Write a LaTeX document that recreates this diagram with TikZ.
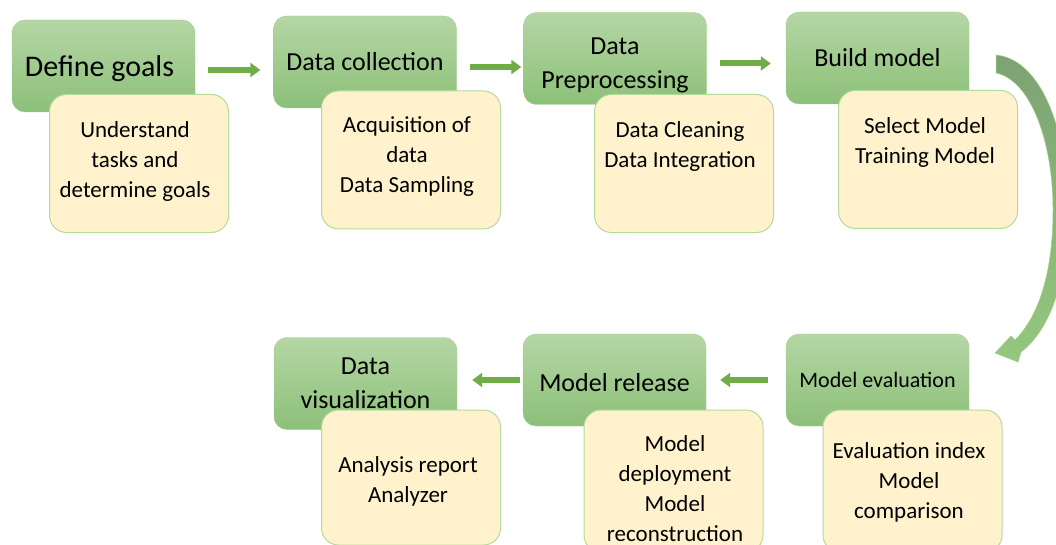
\documentclass[tikz,border=0pt]{standalone}
\usepackage{fontspec}
\setmainfont{Carlito}
\usetikzlibrary{arrows.meta}

\definecolor{stagetop}{HTML}{B5D6A5}
\definecolor{stagebot}{HTML}{8CC079}
\definecolor{stageline}{HTML}{A3CD8A}
\definecolor{notefill}{HTML}{FFF2CC}
\definecolor{noteline}{HTML}{B6D99C}
\definecolor{flowgreen}{HTML}{70AD47}
\definecolor{bendtop}{HTML}{7DA274}
\definecolor{bendbot}{HTML}{94C87D}

\tikzset{
	stage/.style={rectangle, rounded corners=13pt, draw=stageline, top color=stagetop, bottom color=stagebot, minimum width=183pt, minimum height=92pt, inner sep=0pt, align=center, font=\fontsize{26}{34}\selectfont},
	note/.style={rectangle, rounded corners=17pt, draw=noteline, line width=1pt, fill=notefill, minimum width=179pt, minimum height=138pt},
	notetext/.style={align=center, inner sep=0pt, font=\fontsize{23}{30}\selectfont},
	flow/.style={draw=flowgreen, line width=6pt, -{Triangle[length=10pt,width=14pt]}},
}

\begin{document}
\begin{tikzpicture}[x=1pt, y=-1pt]
	
	\useasboundingbox (0,0) rectangle (1056,545);
	\clip (0,0) rectangle (1056,545);
	
	\node[stage, font=\fontsize{30}{34}\selectfont](goals) at (103.5,66){\raisebox{-3pt}[\height][\depth]{Define goals}\hspace*{8pt}};
	\node[stage](collect) at (365,62){Data collection};
	\node[stage](prep) at (615,58.5){\raisebox{-6pt}[\height][\depth]{\begin{tabular}{@{}c@{}}Data\\Preprocessing\end{tabular}}};
	\node[stage](build) at (877.5,58){Build model};
	\node[stage, font=\fontsize{22}{30}\selectfont](eval) at (877.5,380){Model evaluation};
	\node[stage](release) at (614.5,380){\raisebox{-3pt}[\height][\depth]{Model release}};
	\node[stage](vis) at (365.5,383.5){Data\\visualization};
	
	\node[note](goals_n) at (139,163.5){};
	\node[note](collect_n) at (411,160){};
	\node[note](prep_n) at (684,163.5){};
	\node[note](build_n) at (928,159.5){};
	\node[note, minimum height=142pt](eval_n) at (912.5,481){};
	\node[note, minimum height=142pt](release_n) at (673.5,481){};
	\node[note, minimum height=135pt](vis_n) at (411,477.5){};
	
	\node[notetext](goals_t) at (135,161){Understand\\tasks and\\determine goals};
	\node[notetext](collect_t) at (407,157){Acquisition of\\data\\Data Sampling};
	\node[notetext](prep_t) at (680,146){Data Cleaning\\Data Integration};
	\node[notetext](build_t) at (925,142){Select Model\\Training Model};
	\node[notetext](eval_t) at (909,482){Evaluation index\\Model\\comparison};
	\node[notetext](release_t) at (675,489){Model\\deployment\\Model\\reconstruction};
	\node[notetext](vis_t) at (408,481){Analysis report\\Analyzer};
	
	\draw[flow, shorten <=13pt, shorten >=13pt] ([yshift=-4pt]goals.east) -- ([yshift=-4pt]goals.east -| collect.west);
	\draw[flow, shorten <=13pt, shorten >=2pt] ([yshift=-5pt]collect.east) -- ([yshift=-5pt]collect.east -| prep.west);
	\draw[flow, shorten <=13pt, shorten >=15pt] ([yshift=-5pt]prep.east) -- ([yshift=-5pt]prep.east -| build.west);
	\draw[flow, shorten <=18pt, shorten >=14pt] (eval.west) -- (eval.west -| release.east);
	\draw[flow, shorten <=3pt, shorten >=15pt] (release.west) -- (release.west -| vis.east);
	
	% bent arrow from build model down to model evaluation
	\path[top color=bendtop, bottom color=bendbot, draw=stageline, line width=0.5pt]
		(996,55) .. controls (1045,60) and (1068,140) .. (1068,210)
		.. controls (1068,280) and (1050,330) .. (1021,352)
		-- (1018,362) -- (995,353) -- (1011,336) -- (1015,340)
		.. controls (1040,315) and (1053,270) .. (1053,210)
		.. controls (1053,140) and (1030,80) .. (996,73) -- cycle;
	
\end{tikzpicture}
\end{document}
